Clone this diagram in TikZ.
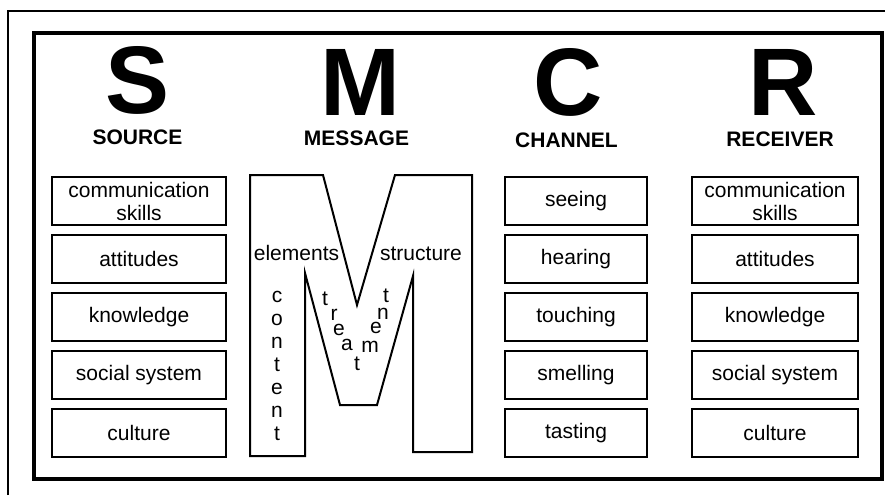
\documentclass[tikz,border=0pt]{standalone}
\usepackage{fontspec}
\setmainfont{Liberation Sans}

\begin{document}
\begin{tikzpicture}[x=1pt,y=-1pt,
 item/.style={draw,line width=1.6pt,inner sep=0pt,minimum height=48pt,align=center,font=\fontsize{21}{23}\selectfont},
 bigletter/.style={anchor=base,inner sep=0pt,text depth=0pt,font=\fontsize{96}{96}\selectfont\bfseries},
 heading/.style={anchor=base,inner sep=0pt,text depth=0pt,font=\fontsize{21}{24}\selectfont\bfseries},
 mtext/.style={anchor=base,inner sep=0pt,text depth=0pt,font=\fontsize{21}{23}\selectfont}]
 \useasboundingbox (0,0) rectangle (885,495);
 % frames
 \draw[line width=2.5pt] (8,495)--(8,11)--(885,11);
 \draw[line width=4pt] (34,33.5) rectangle (881.5,478.5);
 % the four letters and their words
 \node[bigletter] (S) at (138,113) {S};
 \node[bigletter] (M) at (360,115) {M};
 \node[bigletter] (C) at (568,115) {C};
 \node[bigletter] (R) at (783,115) {R};
 \node[heading] (source) at (137.5,144) {SOURCE};
 \node[heading] (message) at (356.5,145) {MESSAGE};
 \node[heading] (channel) at (566.5,147) {CHANNEL};
 \node[heading] (receiver) at (780,146) {RECEIVER};
 % columns of boxes
 \foreach \t [count=\i] in {{communication\\skills},attitudes,knowledge,{social system},culture}
  \node[item,minimum width=174pt] (src\i) at (139,143+58*\i) {\t};
 \foreach \t [count=\i] in {seeing,hearing,touching,smelling,tasting}
  \node[item,minimum width=142pt] (chn\i) at (576,143+58*\i) {\t};
 \foreach \t [count=\i] in {{communication\\skills},attitudes,knowledge,{social system},culture}
  \node[item,minimum width=166pt] (rcv\i) at (775,143+58*\i) {\t};
 % the big M of the message
 \draw[line width=2pt] (250,175)--(323,175)--(357,305)--(395,175)--(472,175)--(472,452)--(413,452)--(413,276)
  --(377,405)--(340,405)--(305,273)--(305,456)--(250,456)--cycle;
 \node[mtext] (elements) at (296.5,260) {elements};
 \node[mtext] (structure) at (421,260) {structure};
 \foreach \ch [count=\i] in {c,o,n,t,e,n,t}
  \node[mtext] (cont\i) at (277,279+23*\i) {\ch};
 \foreach \ch/\px/\py [count=\i] in {t/325/305,r/334/320,e/339/335,a/347/350,t/357/370,m/370/352,e/376/333,n/383/319,t/386/302}
  \node[mtext] (treat\i) at (\px,\py) {\ch};
\end{tikzpicture}
\end{document}
